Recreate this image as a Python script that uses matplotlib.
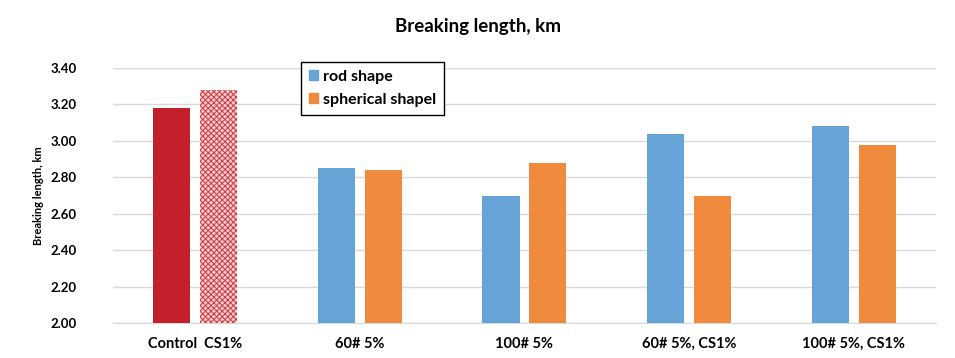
import matplotlib
matplotlib.use("Agg")
import matplotlib.pyplot as plt
from matplotlib.patches import Patch
import numpy as np

categories = ["Control  CS1%", "60# 5%", "100# 5%", "60# 5%, CS1%", "100# 5%, CS1%"]
control_value = 3.18
cs1_value = 3.28
rod_shape = [2.85, 2.70, 3.04, 3.08]
spherical_shape = [2.84, 2.88, 2.70, 2.98]
yticks = [2.00, 2.20, 2.40, 2.60, 2.80, 3.00, 3.20, 3.40]

plt.rcParams["font.family"] = ["Lato", "DejaVu Sans"]
plt.rcParams["hatch.linewidth"] = 0.7

fig = plt.figure(figsize=(9.55, 3.58), dpi=100)
ax = fig.add_axes([0.1183, 0.0978, 0.8617, 0.7122])

x = np.arange(len(categories))
w = 0.225
off = 0.1425

ax.bar(x[0] - off, control_value, w, color="#C3202B", zorder=3)
ax.bar(x[0] + off, cs1_value, w, facecolor="#F5CDCF", edgecolor="#D0383F",
       linewidth=0, hatch="xxxxxx", zorder=3)
ax.bar(x[1:] - off, rod_shape, w, color="#66A3D6", zorder=3)
ax.bar(x[1:] + off, spherical_shape, w, color="#F08A3C", zorder=3)

ax.set_ylim(2.0, 3.4)
ax.set_xlim(-0.5, len(categories) - 0.5)
ax.set_yticks(yticks)
ax.set_yticklabels([f"{v:.2f}" for v in yticks], fontsize=9.5, fontweight="bold")
ax.set_xticks(x)
ax.set_xticklabels(categories, fontsize=10.5, fontweight="bold")
ax.tick_params(length=0, pad=10)
ax.tick_params(axis="y", pad=26)
ax.grid(axis="y", color="#D9D9D9", linewidth=1, zorder=0)
for side in ["top", "right", "left"]:
    ax.spines[side].set_visible(False)
ax.spines["bottom"].set_color("#D9D9D9")

ax.set_ylabel("Breaking length, km", fontsize=8, fontweight="bold", labelpad=5)
fig.suptitle("Breaking length, km", fontsize=13.5, fontweight="bold", y=0.95)

handles = [Patch(color="#66A3D6", label="rod shape"),
           Patch(color="#F08A3C", label="spherical shapel")]
leg = ax.legend(handles=handles, loc="upper left", bbox_to_anchor=(0.228, 1.024),
                borderaxespad=0, fancybox=False, framealpha=1, handlelength=0.6,
                handleheight=0.6, handletextpad=0.3, labelspacing=0.55,
                borderpad=0.5, prop={"weight": "bold", "size": 11.5})
leg.get_frame().set_edgecolor("black")
leg.get_frame().set_linewidth(1)

fig.savefig("out.png", dpi=100)
